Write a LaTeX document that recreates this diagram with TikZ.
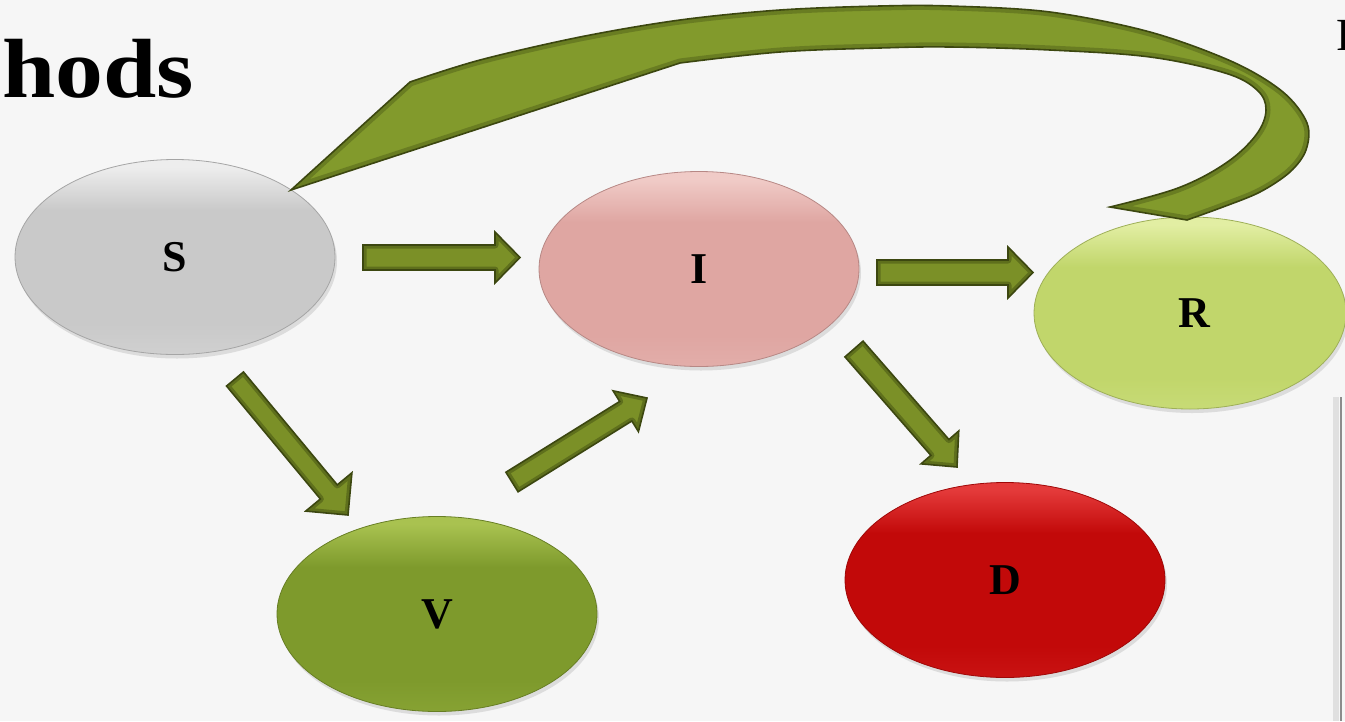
\documentclass[tikz,border=0pt]{standalone}
\usepackage{fontspec}
\setmainfont{Liberation Serif}
\usetikzlibrary{calc,shadows,shapes.geometric}
\definecolor{bgcol}{HTML}{F6F6F6}
\definecolor{olive}{HTML}{7B9027}
\definecolor{olivedark}{HTML}{3C4710}
\definecolor{bandfill}{HTML}{829A2C}
\definecolor{sbase}{HTML}{C9C9C9}
\definecolor{stopc}{HTML}{EDEDED}
\definecolor{ibase}{HTML}{DFA6A2}
\definecolor{itopc}{HTML}{F0CBC7}
\definecolor{rbase}{HTML}{C1D66B}
\definecolor{rtopc}{HTML}{E2EEA3}
\definecolor{vbase}{HTML}{7E9A2C}
\definecolor{vtopc}{HTML}{A9C250}
\definecolor{dbase}{HTML}{C20909}
\definecolor{dtopc}{HTML}{E43A3A}
\colorlet{bubtop}{white}\colorlet{bubmid}{gray}\colorlet{bubbot}{gray}
\pgfdeclareverticalshading[bubtop,bubmid,bubbot]{bubshade}{100bp}{%
 color(0bp)=(bubbot); color(25bp)=(bubbot); color(33bp)=(bubmid); color(62bp)=(bubmid); color(73bp)=(bubtop); color(100bp)=(bubtop)}
\tikzset{
 bubble/.style={ellipse, minimum width=320pt, minimum height=195pt, inner sep=0pt,
   font=\fontsize{44}{50}\selectfont\bfseries, text=black, line width=0.8pt,
   drop shadow={shadow xshift=2pt, shadow yshift=-4pt, opacity=0.22}, shading=bubshade},
 bubblecol/.code 2 args={\colorlet{bubtop}{#2}\colorlet{bubmid}{#1}\colorlet{bubbot}{#1!80!#2}\pgfkeysalso{draw=#1!82!black}},
 arrowfill/.style={fill=olive},
 arrowglow/.style={draw=olivedark, line width=7pt, opacity=0.45, line join=round},
 arrowborder/.style={draw=olivedark, line width=1.6pt, line join=miter},
 bandglow/.style={draw=olivedark, line width=9pt, opacity=0.35, line join=round},
}
\newcommand\barrow[5]{%
 \coordinate (#1-h) at ($(#2)!#5!(#1)$);
 \def\arrpath{($(#1)!#3!90:(#2)$) -- ($(#1-h)!#3!-90:(#1)$) -- ($(#1-h)!#4!-90:(#1)$) -- (#2) -- ($(#1-h)!#4!90:(#1)$) -- ($(#1-h)!#3!90:(#1)$) -- ($(#1)!#3!-90:(#2)$) -- cycle}%
 \fill[arrowfill] \arrpath;
 \begin{scope}\clip \arrpath; \draw[arrowglow] \arrpath; \end{scope}
 \draw[arrowborder] \arrpath;
}
\begin{document}
\begin{tikzpicture}[x=1pt,y=-1pt]
\useasboundingbox (0,0) rectangle (1345,721);
\fill[bgcol] (0,0) rectangle (1345,721);
% right border line
\draw[black!12, line width=6pt] (1336,397) -- (1336,721);
\draw[black!45, line width=2.5pt] (1341,397) -- (1341,721);
% title fragments
\node[anchor=base west, inner sep=0pt, xscale=1.14, font=\fontsize{84}{90}\selectfont\bfseries] (title) at (2,97) {hods};
\node[anchor=base west, inner sep=0pt, font=\fontsize{46}{50}\selectfont] (cut) at (1336,50) {R};
% compartments
\node[bubble, bubblecol={sbase}{stopc}] (S) at (175,257) {S};
\node[bubble, bubblecol={ibase}{itopc}] (I) at (699,269) {I};
\node[bubble, bubblecol={rbase}{rtopc}, minimum width=312pt, minimum height=192pt] (R) at (1190,313) {\hspace*{8pt}R};
\node[bubble, bubblecol={vbase}{vtopc}] (V) at (437,614) {V};
\node[bubble, bubblecol={dbase}{dtopc}] (D) at (1005,580) {D};
% block arrows
\coordinate (SIa) at (363,257.5); \coordinate (SIb) at (520,257.5);
\coordinate (IRa) at (877,272.5); \coordinate (IRb) at (1033,272.5);
\coordinate (SVa) at (235,379); \coordinate (SVb) at (348,515);
\coordinate (VIa) at (512,482); \coordinate (VIb) at (647,398);
\coordinate (IDa) at (854,349); \coordinate (IDb) at (957,467);
\barrow{SIa}{SIb}{12.5pt}{25.5pt}{25pt}
\barrow{IRa}{IRb}{12.5pt}{25.5pt}{25pt}
\barrow{SVa}{SVb}{11pt}{30pt}{30pt}
\barrow{VIa}{VIb}{11.5pt}{24pt}{25pt}
\barrow{IDa}{IDb}{12pt}{25pt}{26pt}
% curved arrow R -> S
\coordinate (Stip) at (291,190);
\coordinate (Rtail) at (1148,214);
\def\bigpath{(Stip) -- plot[smooth, tension=0.55] coordinates {(410,82) (480,60) (580,37) (680,20) (780,10) (880,6) (950,6) (1050,12) (1150,32) (1233,62) (1283,92) (1307,123) (1306,150) (1290,172) (1260,192) (1223,207) (1187,220)} -- plot[smooth, tension=0.6] coordinates {(1110,207) (1178,188) (1226,163) (1256,135) (1266,110) (1257,90) (1225,73) (1150,57) (1050,50) (950,47) (880,48) (780,52) (680,63)} -- cycle}
\fill[bandfill] \bigpath;
\begin{scope}\clip \bigpath; \draw[bandglow] \bigpath; \end{scope}
\draw[arrowborder] \bigpath;
\end{tikzpicture}
\end{document}
